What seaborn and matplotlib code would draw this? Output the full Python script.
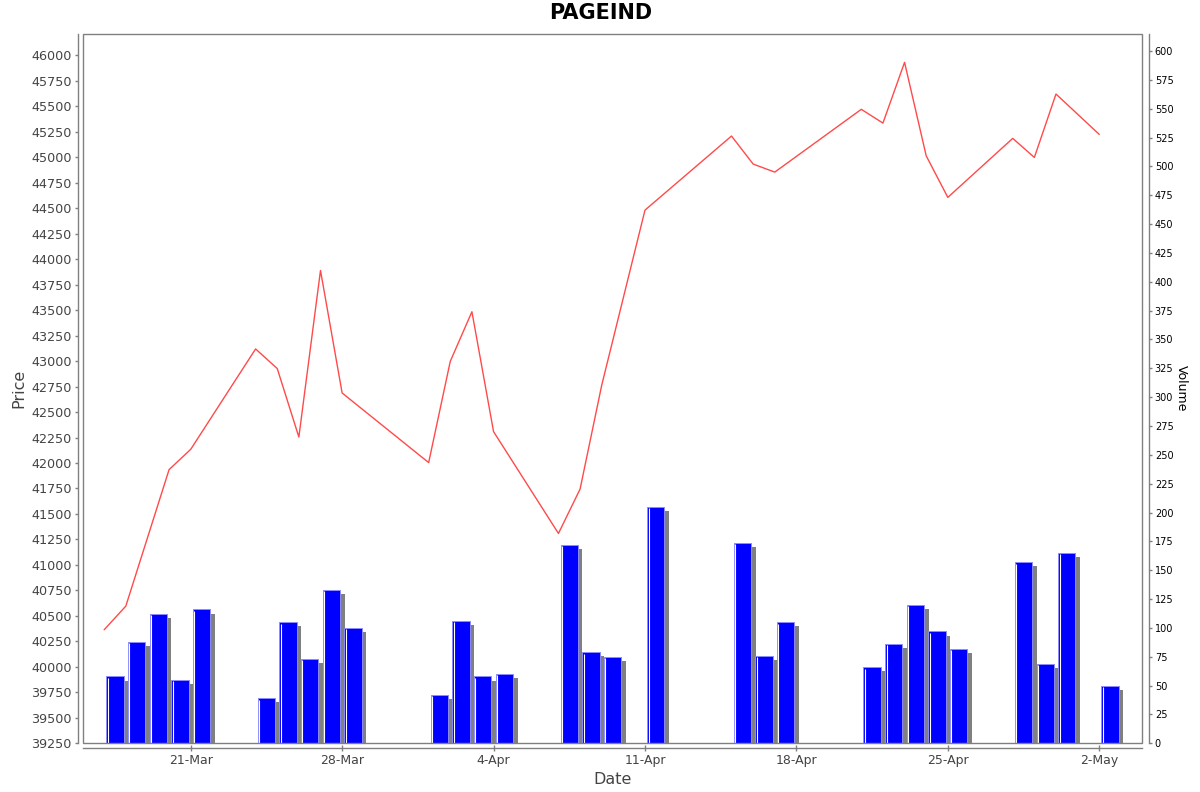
import numpy as np
import pandas as pd
import seaborn as sns
import matplotlib
matplotlib.use("Agg")
import matplotlib.pyplot as plt
import matplotlib.dates as mdates
from matplotlib.patches import Rectangle

# trading days, close price and volume
dates = ["2025-03-17", "2025-03-18", "2025-03-19", "2025-03-20", "2025-03-21",
         "2025-03-24", "2025-03-25", "2025-03-26", "2025-03-27", "2025-03-28",
         "2025-04-01", "2025-04-02", "2025-04-03", "2025-04-04",
         "2025-04-07", "2025-04-08", "2025-04-09", "2025-04-11",
         "2025-04-15", "2025-04-16", "2025-04-17",
         "2025-04-21", "2025-04-22", "2025-04-23", "2025-04-24", "2025-04-25",
         "2025-04-28", "2025-04-29", "2025-04-30", "2025-05-02"]
price = [40364, 40596, 41265, 41935, 42134,
         43119, 42927, 42255, 43889, 42687,
         42004, 42998, 43484, 42308,
         41309, 41744, 42763, 44481,
         45208, 44933, 44854,
         45470, 45335, 45931, 45014, 44606,
         45185, 44998, 45620, 45224]
volume = [58, 88, 112, 55, 116,
          39, 105, 73, 133, 100,
          42, 106, 58, 60,
          172, 79, 75, 205,
          174, 76, 105,
          66, 86, 120, 97, 82,
          157, 69, 165, 50]

df = pd.DataFrame({"date": pd.to_datetime(dates), "price": price, "volume": volume})

sns.set_theme(style="white")
plt.rcParams["font.family"] = ["DejaVu Sans"]

W, H = 1200, 792
fig = plt.figure(figsize=(12, 7.92), dpi=100)
ax = fig.add_axes([83.3 / W, 1 - 743.3 / H, (1142.3 - 83.3) / W, (743.3 - 34) / H])
ax2 = ax.twinx()
ax.set_zorder(ax2.get_zorder() + 1)
ax.patch.set_visible(False)

# volume bars with a grey drop shadow
xnum = mdates.date2num(df["date"]) + 0.1
vol = df["volume"].to_numpy()
ax2.bar(xnum + 0.21, vol - 3.6, width=0.8, align="edge", color="#808080", linewidth=0)
ax2.bar(xnum, vol, width=0.8, align="edge", color="#0000ff",
        edgecolor="#8c8cff", linewidth=0.7)
ax2.vlines(xnum + 0.065, 0, vol - 1.2, color="white", linewidth=0.8)
ax2.set_ylim(0, 614.7)

# price line
sns.lineplot(data=df, x="date", y="price", ax=ax, color="#ff4a4a", linewidth=1.0)
ax.set_ylim(39250, 46209)
ax.set_xlim(mdates.date2num(pd.Timestamp("2025-03-16")) + 0.035,
            mdates.date2num(pd.Timestamp("2025-05-04")) - 0.01)

# axes look
gray = "#808080"
for s in list(ax.spines.values()) + list(ax2.spines.values()):
    s.set_visible(False)
ax.spines["left"].set_visible(True)
ax.spines["left"].set_position(("outward", 4))
ax.spines["bottom"].set_visible(True)
ax.spines["bottom"].set_position(("outward", 3.5))
ax2.spines["right"].set_visible(True)
ax2.spines["right"].set_position(("outward", 4.5))
for s in [ax.spines["left"], ax.spines["bottom"], ax2.spines["right"]]:
    s.set_color(gray)
    s.set_linewidth(1.0)
ax.add_patch(Rectangle((0, 0), 1, 1, transform=ax.transAxes, fill=False,
                       edgecolor=gray, linewidth=1.0, clip_on=False))

ax.set_yticks(np.arange(39250, 46001, 250))
ax.tick_params(axis="y", which="both", left=True, length=2.5, width=1, color=gray,
               labelsize=9.2, labelcolor="#444444", pad=2)
ax.xaxis.set_major_locator(mdates.WeekdayLocator(byweekday=mdates.FR))
ax.xaxis.set_major_formatter(plt.FuncFormatter(
    lambda v, _: f"{mdates.num2date(v).day}-{mdates.num2date(v):%b}"))
ax.tick_params(axis="x", bottom=True, direction="inout", length=4, width=1, color=gray,
               labelsize=9, labelcolor="#444444", pad=2.5)
ax2.set_yticks(np.arange(0, 601, 25))
ax2.tick_params(axis="y", right=True, length=2.5, width=1, color=gray,
                labelsize=7, labelcolor="black", pad=2)

ax.set_xlabel("Date", fontsize=11.5, color="#444444", labelpad=3)
ax.set_ylabel("Price", fontsize=11.5, color="#444444", labelpad=3)
ax2.set_ylabel("Volume", fontsize=9, color="black", rotation=270, labelpad=10)

fig.text(601 / W, 1 - 13 / H, "PAGEIND", ha="center", va="center",
         fontsize=15, fontweight="bold", color="black")

fig.savefig("out.png", dpi=100, facecolor="white")
